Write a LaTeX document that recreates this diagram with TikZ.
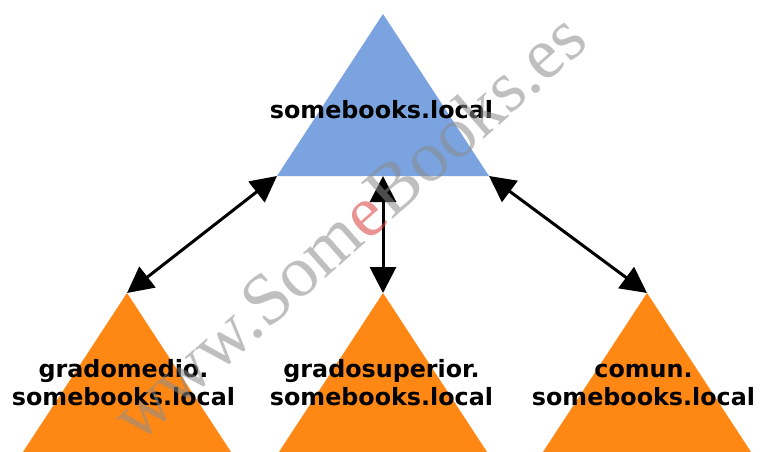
\documentclass[tikz,border=0pt]{standalone}
\usepackage{fontspec}
\usetikzlibrary{arrows.meta}
\newfontfamily\labfont{DejaVu Sans}
\newfontfamily\wmfont{Liberation Serif}
\definecolor{topblue}{RGB}{122,163,223}
\definecolor{domorange}{RGB}{255,136,20}
\definecolor{wmred}{RGB}{215,60,60}
\tikzset{
  lab/.style={font=\labfont\bfseries\fontsize{23.8}{28}\selectfont, text=black, align=center, anchor=base, inner sep=0pt},
  link/.style={line width=3pt, {Triangle[length=26pt,width=26pt]}-{Triangle[length=26pt,width=26pt]}},
}
\begin{document}
\begin{tikzpicture}[x=1pt,y=-1pt]
\clip (0,0) rectangle (760,452);
\fill[white] (0,0) rectangle (760,452);
% corners
\coordinate (topA) at (383,14);
\coordinate (topL) at (277,176);
\coordinate (topR) at (489,176);
\coordinate (gmA) at (127,293);
\coordinate (gsA) at (383,293);
\coordinate (coA) at (647,293);
\coordinate (topM) at (383,176);
% triangles
\fill[topblue] (topA) -- (topL) -- (topR) -- cycle;
\foreach \c in {gmA,gsA,coA}{
  \fill[domorange] (\c) -- ++(-117.8,180) -- ++(235.6,0) -- cycle;
}
% links
\draw[link] (topL) -- (gmA);
\draw[link] (topM) -- (gsA);
\draw[link] (topR) -- (coA);
% labels
\node[lab] (top) at (381.5,118) {somebooks.local};
\node[lab] (gm) at (123.5,405) {gradomedio.\\somebooks.local};
\node[lab] (gs) at (381.5,405) {gradosuperior.\\somebooks.local};
\node[lab] (co) at (643.5,405) {comun.\\somebooks.local};
% watermark
\node[rotate=41.5, font=\wmfont\fontsize{73}{73}\selectfont, text=black!45, opacity=0.55, inner sep=0pt] (wm) at (348,226) {www.Som{\color{wmred}e}Books.es};
\end{tikzpicture}
\end{document}
